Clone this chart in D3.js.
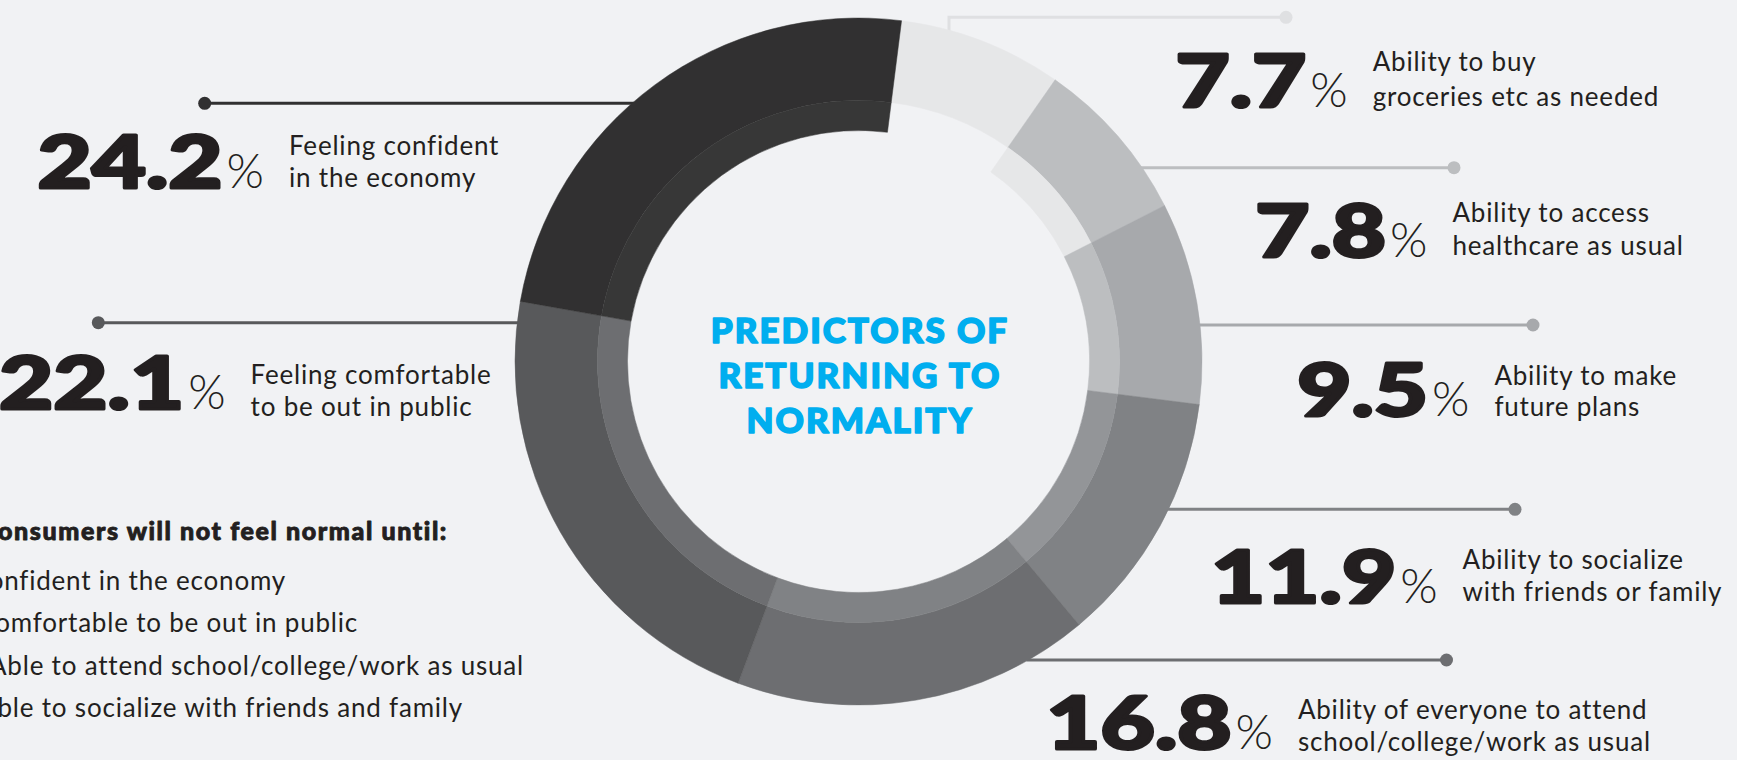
<!DOCTYPE html>
<html>
<head>
<meta charset="utf-8">
<script src="https://cdn.jsdelivr.net/npm/d3@7"></script>
<style>
  html, body { margin: 0; padding: 0; background: #f1f2f4; overflow: hidden; }
  svg { display: block; }
</style>
</head>
<body>
<svg id="chart" width="1737" height="760"></svg>
<script>
// ---------------- DATA ----------------
const categories = [
  "Ability to buy groceries etc as needed",
  "Ability to access healthcare as usual",
  "Ability to make future plans",
  "Ability to socialize with friends or family",
  "Ability of everyone to attend school/college/work as usual",
  "Feeling comfortable to be out in public",
  "Feeling confident in the economy"
];
const values = [7.7, 7.8, 9.5, 11.9, 16.8, 22.1, 24.2];
const labelLines = [
  ["Ability to buy", "groceries etc as needed"],
  ["Ability to access", "healthcare as usual"],
  ["Ability to make", "future plans"],
  ["Ability to socialize", "with friends or family"],
  ["Ability of everyone to attend", "school/college/work as usual"],
  ["Feeling comfortable", "to be out in public"],
  ["Feeling confident", "in the economy"]
];
const titleLines = ["PREDICTORS OF", "RETURNING TO", "NORMALITY"];
const noteHeading = "Consumers will not feel normal until:";
const noteItems = [
  "Confident in the economy",
  "Comfortable to be out in public",
  "Able to attend school/college/work as usual",
  "Able to socialize with friends and family"
];

// ---------------- STYLE ----------------
const outerColors = ["#e6e7e8", "#bcbec0", "#a7a9ac", "#808285", "#6d6e71", "#58595b", "#313031"];
const innerColors = ["none",    "#e6e7e8", "#bcbec0", "#939598", "#808285", "#6d6e71", "#373737"];
const lineColors  = ["#dfe0e2", "#bcbec0", "#a7a9ac", "#808285", "#6d6e71", "#58595b", "#313031"];
const BG = "#f1f2f4";
const INK = "#231f20";
const BODY_FONT = "Lato, sans-serif";

// ---------------- LAYOUT ----------------
const cx = 858.5, cy = 361.5;
const rOuter = 343.5, rMid = 261, rInner = 231;
const startDeg = 7.2;
// annotation layout (label anchor positions), per slice index
const layout = [
  { dot: [1286, 17.3],  elbowX: 949, labelX: 1372.7, baseY: 107.3, lineY: [71, 106] },
  { dot: [1454, 167.7], labelX: 1452.5, baseY: 256.7, lineY: [222, 255] },
  { dot: [1533, 325],   labelX: 1494.4, baseY: 416,   lineY: [385, 416] },
  { dot: [1515, 509.3], labelX: 1462.6, baseY: 603.3, lineY: [569, 601] },
  { dot: [1446.5, 660], labelX: 1297.9, baseY: 749.3, lineY: [719, 751] },
  { dot: [98.3, 322.7], labelX: 250.6,  baseY: 409.3, lineY: [384, 416] },
  { dot: [204.7, 103.3],labelX: 289,    baseY: 188.3, lineY: [155, 187.3] }
];

const svg = d3.select("#chart");
svg.append("rect").attr("width", 1737).attr("height", 760).attr("fill", BG);

const data = values.map((v, i) => ({ value: v, i, name: categories[i] }));

// ---------------- LEADER LINES (behind ring) ----------------
const leaders = svg.append("g");
data.forEach((d, i) => {
  const L = layout[i];
  const [dx, dy] = L.dot;
  let pts;
  if (L.elbowX !== undefined) {
    const yEdge = cy - Math.sqrt(rOuter * rOuter - (L.elbowX - cx) ** 2);
    pts = [[L.elbowX, yEdge + 2], [L.elbowX, dy], [dx, dy]];
  } else {
    const off = Math.sqrt(Math.max(0, rOuter * rOuter - (dy - cy) ** 2));
    const xEdge = dx > cx ? cx + off - 2 : cx - off + 2;
    pts = [[xEdge, dy], [dx, dy]];
  }
  leaders.append("path")
    .attr("d", d3.line()(pts))
    .attr("fill", "none")
    .attr("stroke", lineColors[i])
    .attr("stroke-width", 3);
  leaders.append("circle")
    .attr("cx", dx).attr("cy", dy).attr("r", 6.5)
    .attr("fill", lineColors[i]);
});

// ---------------- DONUT ----------------
const pie = d3.pie().sort(null).value(d => d.value)
  .startAngle(startDeg * Math.PI / 180)
  .endAngle(startDeg * Math.PI / 180 + 2 * Math.PI);
const arcs = pie(data);
const arcOuter = d3.arc().innerRadius(rMid).outerRadius(rOuter);
const arcInner = d3.arc().innerRadius(rInner).outerRadius(rMid);

const ring = svg.append("g").attr("transform", `translate(${cx},${cy})`);
ring.selectAll("path.outer").data(arcs).join("path")
  .attr("class", "outer")
  .attr("d", arcOuter)
  .attr("fill", d => outerColors[d.index])
  .attr("stroke", d => outerColors[d.index])
  .attr("stroke-width", 0.5);
ring.selectAll("path.inner").data(arcs).join("path")
  .attr("class", "inner")
  .attr("d", arcInner)
  .attr("fill", d => innerColors[d.index])
  .attr("stroke", d => innerColors[d.index])
  .attr("stroke-width", 0.5);

// ---------------- CENTER TITLE ----------------
const titleY = [343.3, 388.3, 432.7];
svg.append("g").selectAll("text").data(titleLines).join("text")
  .attr("x", 860).attr("y", (d, i) => titleY[i])
  .attr("text-anchor", "middle")
  .attr("font-family", BODY_FONT)
  .attr("font-weight", 900)
  .attr("font-size", 35)
  .attr("letter-spacing", 2)
  .attr("fill", "#00aeef")
  .attr("stroke", "#00aeef")
  .attr("stroke-width", 1.6)
  .attr("stroke-linejoin", "round")
  .text(d => d);

// ---------------- VALUE LABELS ----------------
const fmt = d3.format(".1f");
const labels = svg.append("g");
data.forEach((d, i) => {
  const L = layout[i];
  const g = labels.append("g");
  // description lines
  L.lineY.forEach((y, k) => {
    g.append("text")
      .attr("x", L.labelX).attr("y", y)
      .attr("font-family", BODY_FONT)
      .attr("font-weight", 400)
      .attr("font-size", 26)
      .attr("letter-spacing", 0.8)
      .attr("fill", INK)
      .text(labelLines[i][k]);
  });
  // percent sign
  const pctRight = L.labelX - 25;
  const pct = g.append("text")
    .attr("x", pctRight).attr("y", L.baseY)
    .attr("text-anchor", "end")
    .attr("font-family", BODY_FONT)
    .attr("font-weight", 300)
    .attr("font-size", 48)
    .attr("fill", INK)
    .text("%");
  const pw = pct.node().getComputedTextLength();
  // number
  g.append("g")
    .attr("transform", `translate(${pctRight - pw - 4},${L.baseY}) scale(1.3,1)`)
    .append("text")
    .attr("text-anchor", "end")
    .attr("font-family", BODY_FONT)
    .attr("font-weight", 900)
    .attr("font-size", 72)
    .attr("fill", INK)
    .attr("stroke", INK)
    .attr("stroke-width", 3)
    .attr("stroke-linejoin", "round")
    .text(fmt(d.value));
});

// ---------------- NOTE (left, partly cut off as in the source) ----------------
const note = svg.append("g");
note.append("text")
  .attr("x", 448).attr("y", 540)
  .attr("text-anchor", "end")
  .attr("font-family", BODY_FONT)
  .attr("font-weight", 900)
  .attr("font-size", 25)
  .attr("letter-spacing", 1.6)
  .attr("fill", INK)
  .attr("stroke", INK)
  .attr("stroke-width", 0.9)
  .attr("stroke-linejoin", "round")
  .text(noteHeading);
const noteY = [590, 632, 675, 717];
const noteRight = [286, 358, 524, 463];
note.selectAll("text.item").data(noteItems).join("text")
  .attr("class", "item")
  .attr("x", (d, i) => noteRight[i]).attr("y", (d, i) => noteY[i])
  .attr("text-anchor", "end")
  .attr("font-family", BODY_FONT)
  .attr("font-weight", 400)
  .attr("font-size", 26)
  .attr("letter-spacing", 0.8)
  .attr("fill", INK)
  .text(d => d);
</script>
</body>
</html>
